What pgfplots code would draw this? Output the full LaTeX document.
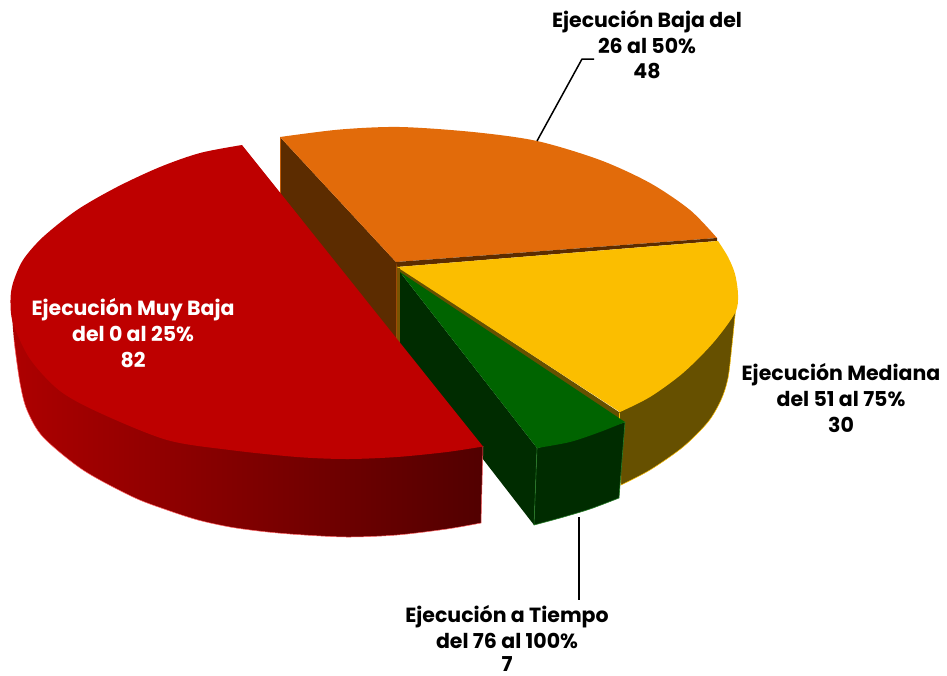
\documentclass[border=0pt]{standalone}
\usepackage{pgfplots}
\pgfplotsset{compat=1.18}
\usepackage{fontspec}
\setmainfont{Poppins}
\definecolor{cRed}{HTML}{BE0000}
\definecolor{cOrange}{HTML}{E26B0A}
\definecolor{cYellow}{HTML}{FBBE00}
\definecolor{cGreen}{HTML}{006400}
\definecolor{cDGreen}{HTML}{002C00}
\definecolor{cYSide}{HTML}{665000}
\definecolor{cBrown}{HTML}{5C2C00}
\newcommand{\lab}[4][black]{\node[anchor=base,text=#1,inner sep=0pt,font=\fontsize{20.5}{24}\selectfont\bfseries] at (axis cs:#2,#3) {#4};}
\begin{document}
\begin{tikzpicture}
\begin{axis}[hide axis,scale only axis,width=947pt,height=675pt,
  xmin=0,xmax=947,ymin=0,ymax=675,y dir=reverse,clip=false,
  every axis plot/.append style={no markers,line join=round}]
\path (axis cs:0,0) rectangle (axis cs:947,675);
% orange wall
\addplot[fill=cBrown,draw=none] coordinates {(280,137)(396,262)(396,348)(280,202)} --cycle;
\addplot[draw=cOrange!85!black,line width=0.6pt] coordinates {(280.5,137)(280.5,196)};
\addplot[draw=cOrange!70!black,line width=1.4pt] coordinates {(396.2,262)(396.2,345)};
% orange top
\addplot[fill=cOrange,draw=none,smooth] coordinates {(280,137)(340,129.5)(400,127)(473,132)(537,141)(600,160)(650,183)(690,210)(717,238)} -- (axis cs:396,262) -- cycle;
\addplot[fill=cBrown,draw=none] coordinates {(396,262)(717,238)(717,241)(397,267)} --cycle;
% yellow side
\addplot[fill=cYSide,draw=cYellow,line width=0.5pt,smooth] coordinates {(736,306)(732,345)(728,378)(721,400)(708,422)(683,447)(650,470)(621,485)} -- (axis cs:619,412) -- cycle;
% yellow strip
\addplot[fill=cYSide,draw=none] coordinates {(397,266)(619,412)(619,419)(398,272)} --cycle;
\addplot[draw=cYellow,line width=0.8pt] coordinates {(619.5,413)(619.5,419)};
% yellow top
\addplot[fill=cYellow,draw=none,smooth] coordinates {(718,241)(728,257)(735,274)(738,295)(735,313)(713,343)(683,373)(650,397)(620,412)} -- (axis cs:397,267) -- cycle;
% green wall
\addplot[draw=cYSide!85!cOrange,line width=3pt] coordinates {(398.6,268)(398.6,345)};
\addplot[fill=cDGreen,draw=none] coordinates {(400,272)(537,448)(534,525)(400,352)} --cycle;
% green front
\addplot[fill=cDGreen,draw=cGreen!85!white,line width=0.6pt,smooth] coordinates {(534,525)(560,518)(590,509)(619,498)} -- (axis cs:625,422) -- (axis cs:537,448) -- cycle;
% green top
\addplot[fill=cGreen,draw=none,smooth] coordinates {(537,448)(570,442)(600,432)(625,422)} -- (axis cs:400,272) -- cycle;
% red side
\addplot[left color=red!68!black,right color=black!68!red,draw=none,smooth] coordinates {(11,300)(14,340)(20,383)(27,410)(43,437)(83,470)(133,497)(167,510)(198,520)(230,527)(263,531.5)(297,534.5)(347,537)(397,535)(447,529)(481,523)} -- (axis cs:483,446) -- (axis cs:400,400) -- cycle;
\addplot[draw=red!60!white,line width=0.5pt,smooth] coordinates {(14,340)(20,383)(27,410)(43,437)(83,470)(133,497)(167,510)(198,520)(230,527)(263,531.5)(297,534.5)(347,537)(397,535)(447,529)(481,523)};
\addplot[draw=red!60!white,line width=0.5pt] coordinates {(481,523)(483,446)};
% red top
\addplot[fill=cRed,draw=none,smooth] coordinates {(483,446.5)(447,452)(397,457)(347,459)(297,457)(230,450)(167,440)(100,413)(60,391)(30,359)(13,323)(10.5,300)(13,283)(23,260)(43,237)(77,210)(117,187)(160,167)(200,153)(242,145)} -- cycle;
% leaders
\addplot[black,line width=1.5pt] coordinates {(537,141)(582,59)(594,59)};
\addplot[black,line width=1.5pt] coordinates {(579,517)(579,600)};
% labels
\lab{647}{27}{Ejecución Baja del}
\lab{647}{53}{26 al 50\%}
\lab{647}{78}{48}
\lab{841}{380}{Ejecución Mediana}
\lab{841}{406}{del 51 al 75\%}
\lab{841}{432}{30}
\lab{507}{622}{Ejecución a Tiempo}
\lab{507}{648}{del 76 al 100\%}
\lab{507}{671}{7}
\lab[white]{133}{315}{Ejecución Muy Baja}
\lab[white]{133}{341}{del 0 al 25\%}
\lab[white]{133}{367}{82}
\end{axis}
\end{tikzpicture}
\end{document}
